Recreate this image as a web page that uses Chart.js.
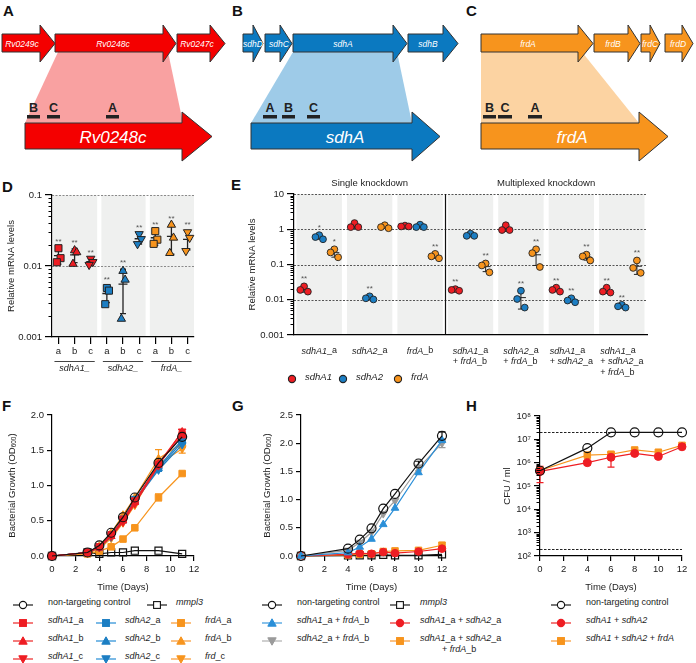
<!DOCTYPE html>
<html><head><meta charset="utf-8">
<script src="https://cdn.jsdelivr.net/npm/chart.js@4.4.1/dist/chart.umd.min.js"></script>
<style>
html,body{margin:0;padding:0;background:#fff;}
#wrap{position:relative;width:696px;height:663px;overflow:hidden;font-family:"Liberation Sans",Arial,sans-serif;color:#222;background:#fff;}
canvas{position:absolute;}
.pl{position:absolute;font-weight:bold;font-size:15px;color:#111;line-height:1;}
.lg{position:absolute;font-size:9px;white-space:nowrap;line-height:11px;color:#222;}
.sym{position:absolute;}
</style></head>
<body><div id="wrap">
<svg width="696" height="170" style="position:absolute;left:0;top:0" font-family="Liberation Sans, Arial, sans-serif">
 <!-- A -->
 <polygon points="58,52 168,52 183,123 25,123" fill="#f9a1a1"/>
 <polygon points="2,34 40,34 40,25 55,43.5 40,62 40,52 2,52" fill="#f40000" stroke="#333" stroke-width="1"/>
 <polygon points="55,34 163,34 163,25 176,43.5 163,62 163,52 55,52" fill="#f40000" stroke="#333" stroke-width="1"/>
 <polygon points="177,34 210,34 210,25 225,43.5 210,62 210,52 177,52" fill="#f40000" stroke="#333" stroke-width="1"/>
 <g fill="#fff" font-style="italic" font-size="8.5" text-anchor="middle">
  <text x="22" y="46.5">Rv0249c</text><text x="113" y="46.5">Rv0248c</text><text x="197" y="46.5">Rv0247c</text>
 </g>
 <polygon points="25,123 182,123 182,112 212,136.5 182,161 182,149 25,149" fill="#f40000" stroke="#333" stroke-width="1"/>
 <text x="113" y="143" fill="#fff" font-style="italic" font-size="17" text-anchor="middle">Rv0248c</text>
 <g fill="#222"><rect x="27" y="115" width="13" height="3.5"/><rect x="47" y="115" width="13" height="3.5"/><rect x="106" y="115" width="13" height="3.5"/></g>
 <g fill="#222" font-weight="bold" font-size="12.5" text-anchor="middle"><text x="33.5" y="112">B</text><text x="53.5" y="112">C</text><text x="112.5" y="112">A</text></g>
 <!-- B -->
 <polygon points="293,52 397,52 412,123 251,123" fill="#9ecbe8"/>
 <polygon points="243,34 253,34 253,25 263,43.5 253,62 253,52 243,52" fill="#0b79c0" stroke="#333" stroke-width="1"/>
 <polygon points="265,34 280,34 280,25 292,43.5 280,62 280,52 265,52" fill="#0b79c0" stroke="#333" stroke-width="1"/>
 <polygon points="293,34 393,34 393,25 407,43.5 393,62 393,52 293,52" fill="#0b79c0" stroke="#333" stroke-width="1"/>
 <polygon points="408,34 443,34 443,25 458,43.5 443,62 443,52 408,52" fill="#0b79c0" stroke="#333" stroke-width="1"/>
 <g fill="#fff" font-style="italic" font-size="8.5" text-anchor="middle">
  <text x="253" y="46.5">sdhD</text><text x="279" y="46.5">sdhC</text><text x="343" y="46.5">sdhA</text><text x="428" y="46.5">sdhB</text>
 </g>
 <polygon points="251,123 412,123 412,112 440,136.5 412,161 412,149 251,149" fill="#0b79c0" stroke="#333" stroke-width="1"/>
 <text x="345" y="143" fill="#fff" font-style="italic" font-size="17" text-anchor="middle">sdhA</text>
 <g fill="#222"><rect x="263" y="115" width="14" height="3.5"/><rect x="282" y="115" width="13" height="3.5"/><rect x="307" y="115" width="13" height="3.5"/></g>
 <g fill="#222" font-weight="bold" font-size="12.5" text-anchor="middle"><text x="270" y="112">A</text><text x="288.5" y="112">B</text><text x="313.5" y="112">C</text></g>
 <!-- C -->
 <polygon points="481,52 582,52 639,123 481,123" fill="#fcd3a2"/>
 <polygon points="481,34 578,34 578,25 593,43.5 578,62 578,52 481,52" fill="#f7941d" stroke="#333" stroke-width="1"/>
 <polygon points="594,34 628,34 628,25 640,43.5 628,62 628,52 594,52" fill="#f7941d" stroke="#333" stroke-width="1"/>
 <polygon points="641,34 650,34 650,25 660,43.5 650,62 650,52 641,52" fill="#f7941d" stroke="#333" stroke-width="1"/>
 <polygon points="665,34 682,34 682,25 693,43.5 682,62 682,52 665,52" fill="#f7941d" stroke="#333" stroke-width="1"/>
 <g fill="#fff" font-style="italic" font-size="8.5" text-anchor="middle">
  <text x="528" y="46.5">frdA</text><text x="613" y="46.5">frdB</text><text x="650" y="46.5">frdC</text><text x="678" y="46.5">frdD</text>
 </g>
 <polygon points="481,123 639,123 639,112 668,136.5 639,161 639,149 481,149" fill="#f7941d" stroke="#333" stroke-width="1"/>
 <text x="572" y="143" fill="#fff" font-style="italic" font-size="17" text-anchor="middle">frdA</text>
 <g fill="#222"><rect x="483" y="115" width="13" height="3.5"/><rect x="498" y="115" width="14" height="3.5"/><rect x="528" y="115" width="14" height="3.5"/></g>
 <g fill="#222" font-weight="bold" font-size="12.5" text-anchor="middle"><text x="489.5" y="112">B</text><text x="505" y="112">C</text><text x="535" y="112">A</text></g>
</svg>
<div class="pl" style="left:3px;top:3px">A</div>
<div class="pl" style="left:232px;top:3px">B</div>
<div class="pl" style="left:466px;top:3px">C</div>
<div class="pl" style="left:2px;top:179px">D</div>
<div class="pl" style="left:231px;top:177px">E</div>
<div class="pl" style="left:2px;top:398px">F</div>
<div class="pl" style="left:232px;top:398px">G</div>
<div class="pl" style="left:466px;top:398px">H</div>
</div>
<script>
// ================= DATA =================
// Panel D
const dCats   = ['a','b','c','a','b','c','a','b','c'];
const dGroups = ['sdhA1_','sdhA2_','frdA_'];
const dTicks  = [0.001, 0.01, 0.1];
const dSdhA1a = [0.0178, 0.0129, 0.0113];
const dSdhA1b = [0.0166, 0.0156, 0.0107];
const dSdhA1c = [0.0127, 0.0114, 0.0104];
const dSdhA2a = [0.0049, 0.0045, 0.0029];
const dSdhA2b = [0.0085, 0.0064, 0.0018];
const dSdhA2c = [0.0282, 0.0240, 0.0204];
const dFrdAa  = [0.0310, 0.0235, 0.0205];
const dFrdAb  = [0.0380, 0.0250, 0.0152];
const dFrdAc  = [0.0300, 0.0250, 0.0163];
const dStars  = ['**','**','**','**','**','**','**','**','**'];

// Panel E
const eGroups   = [['sdhA1_a'],['sdhA2_a'],['frdA_b'],['sdhA1_a','+ frdA_b'],['sdhA2_a','+ frdA_b'],['sdhA1_a','+ sdhA2_a'],['sdhA1_a','+ sdhA2_a','+ frdA_b']];
const eSections = ['Single knockdown','Multiplexed knockdown'];
const eTicks    = [0.001, 0.01, 0.1, 1, 10];
const eSdhA1 = [[0.024,0.019,0.017],[1.5,1.15,1.15],[1.27,1.2,1.2],[0.020,0.019,0.018],[1.3,0.95,0.95],[0.022,0.019,0.017],[0.022,0.017,0.016]];
const eSdhA2 = [[0.68,0.60,0.52],[0.0125,0.011,0.0102],[1.35,1.15,1.15],[0.75,0.65,0.65],[0.018,0.0105,0.006],[0.011,0.0095,0.0085],[0.0072,0.0065,0.006]];
const eFrdA  = [[0.27,0.22,0.16],[1.3,1.15,1.07],[0.20,0.17,0.15],[0.107,0.094,0.06],[0.27,0.21,0.085],[0.19,0.17,0.13],[0.13,0.08,0.058]];
const eStarsSdhA1 = ['**','','','**','','**','**'];
const eStarsSdhA2 = ['*','**','','','**','**','**'];
const eStarsFrdA  = ['*','','**','**','**','**','**'];

// Panel F
const fDays    = [0, 3, 4, 5, 6, 7, 9, 11];
const fTicksX  = [0, 2, 4, 6, 8, 10, 12];
const fTicksY  = [0, 0.5, 1.0, 1.5, 2.0];
const fNT      = [0, 0.05, 0.15, 0.33, 0.55, 0.83, 1.32, 1.69];
const fMmpl3   = [0, 0.05, 0.03, 0.05, 0.05, 0.075, 0.075, 0.03];
const fSdhA1a  = [0, 0.05, 0.13, 0.30, 0.52, 0.78, 1.30, 1.72];
const fSdhA1b  = [0, 0.05, 0.12, 0.28, 0.50, 0.76, 1.31, 1.76];
const fSdhA1c  = [0, 0.05, 0.12, 0.28, 0.48, 0.74, 1.28, 1.77];
const fSdhA2a  = [0, 0.05, 0.13, 0.30, 0.52, 0.80, 1.26, 1.65];
const fSdhA2b  = [0, 0.05, 0.12, 0.28, 0.50, 0.78, 1.24, 1.62];
const fSdhA2c  = [0, 0.05, 0.12, 0.27, 0.50, 0.77, 1.22, 1.58];
const fFrdAa   = [0, 0.03, 0.07, 0.13, 0.24, 0.40, 0.83, 1.17];
const fFrdAb   = [0, 0.05, 0.14, 0.33, 0.58, 0.83, 1.38, 1.60];
const fFrdAc   = [0, 0.04, 0.10, 0.25, 0.47, 0.72, 1.30, 1.52];
const fErrSdhA2a = [0, 0, 0, 0, 0, 0, 0.06, 0.06];
const fErrFrdAa  = [0, 0, 0, 0, 0, 0, 0.05, 0];
const fErrFrdAb  = [0, 0, 0, 0, 0, 0, 0.13, 0.05];
const fErrFrdAc  = [0, 0, 0, 0, 0, 0, 0, 0.06];

// Panel G
const gDays   = [0, 4, 5, 6, 7, 8, 10, 12];
const gTicksY = [0, 0.5, 1.0, 1.5, 2.0, 2.5];
const gNT     = [0, 0.13, 0.29, 0.49, 0.84, 1.10, 1.64, 2.13];
const gMmpl3  = [0, 0.01, 0.01, 0.01, 0.02, 0.01, 0.01, 0.03];
const gA1F    = [0, 0.06, 0.16, 0.30, 0.56, 0.85, 1.48, 2.05];
const gA2F    = [0, 0.10, 0.24, 0.42, 0.75, 0.98, 1.56, 2.00];
const gA1A2   = [0, 0.03, 0.05, 0.04, 0.07, 0.05, 0.08, 0.13];
const gA1A2F  = [0, 0.02, 0.03, 0.04, 0.08, 0.09, 0.10, 0.19];
const gErrNT  = [0, 0, 0, 0, 0, 0, 0.04, 0.07];
const gErrA2F = [0, 0, 0, 0, 0, 0, 0.05, 0.08];
const gErrA1A2F = [0, 0, 0, 0, 0, 0, 0, 0.05];

// Panel H
const hDays   = [0, 4, 6, 8, 10, 12];
const hTicksY = [1e2, 1e3, 1e4, 1e5, 1e6, 1e7, 1e8];
const hNT     = [4.5e5, 4.2e6, 2e7, 2e7, 2e7, 2e7];
const hA1A2   = [4.2e5, 1.0e6, 1.7e6, 2.5e6, 1.85e6, 4.8e6];
const hA1A2F  = [4.6e5, 2.1e6, 2.3e6, 3.5e6, 2.8e6, 5.5e6];
const hErrA1A2 = [2.8e5, 2e5, 1.05e6, 4e5, 3e5, 6e5];
const hDashed = [2e7, 2e2];

// ================= STYLE / HELPERS =================
const RED='#ee1d23', BLUE='#1c7ec3', ORANGE='#f7941d', GREY='#9b9b9b', BAND='#eff0ef';
const FONT='"Liberation Sans", Arial, Helvetica, sans-serif';
Chart.defaults.font.family = FONT;
Chart.defaults.font.size = 9.5;
Chart.defaults.color = '#222';
const wrap = document.getElementById('wrap');

function setup(box, area){
  const c = document.createElement('canvas');
  c.width = box.w; c.height = box.h;
  c.style.left = box.x+'px'; c.style.top = box.y+'px';
  c.style.width = box.w+'px'; c.style.height = box.h+'px';
  wrap.appendChild(c);
  return {canvas:c, pad:{left:0, top:area.t-box.y, right:box.x+box.w-area.r, bottom:0}, yW:area.l-box.x, xH:box.y+box.h-area.b};
}
function segs(str){
  const out=[]; const re=/(sdhA1|sdhA2|frdA|frd|mmpl3)/g; let last=0, m;
  while((m=re.exec(str))){ if(m.index>last) out.push({t:str.slice(last,m.index),i:false}); out.push({t:m[0],i:true}); last=re.lastIndex; }
  if(last<str.length) out.push({t:str.slice(last),i:false});
  return out;
}
function fontOf(p,size){ return (p.i?'italic ':'')+(p.sz||size)+'px '+FONT; }
function richWidth(ctx, parts, size){ let w=0; parts.forEach(p=>{ctx.font=fontOf(p,size); w+=ctx.measureText(p.t).width;}); return w; }
function drawRich(ctx, parts, x, y, size, align, color){
  const total = richWidth(ctx, parts, size);
  let cx = align==='center' ? x-total/2 : (align==='right' ? x-total : x);
  ctx.textAlign='left'; ctx.textBaseline='middle'; ctx.fillStyle=color||'#222';
  parts.forEach(p=>{ ctx.font=fontOf(p,size); ctx.fillText(p.t, cx, y+(p.dy||0)); cx+=ctx.measureText(p.t).width; });
}
function yTitle(chart, parts, off, size){
  const {ctx, chartArea:a} = chart;
  ctx.save(); ctx.translate(a.left-off, (a.top+a.bottom)/2); ctx.rotate(-Math.PI/2);
  drawRich(ctx, parts, 0, 0, size, 'center'); ctx.restore();
}
function hLine(ctx, a, y, color, dash, w){
  ctx.save(); ctx.strokeStyle=color; ctx.setLineDash(dash); ctx.lineWidth=w;
  ctx.beginPath(); ctx.moveTo(a.left, Math.round(y)+0.5); ctx.lineTo(a.right, Math.round(y)+0.5); ctx.stroke(); ctx.restore();
}
function minorLog(chart, len){
  const s=chart.scales.y, ctx=chart.ctx;
  ctx.save(); ctx.strokeStyle='#000'; ctx.lineWidth=1;
  for(let e=Math.floor(Math.log10(s.min)); e<Math.ceil(Math.log10(s.max)); e++){
    for(let k=2;k<10;k++){
      const v=k*Math.pow(10,e); if(v<=s.min||v>=s.max) continue;
      const y=Math.round(s.getPixelForValue(v))+0.5;
      ctx.beginPath(); ctx.moveTo(s.right-len, y); ctx.lineTo(s.right, y); ctx.stroke();
    }
  }
  ctx.restore();
}
function meanSd(a){ const m=a.reduce((s,v)=>s+v,0)/a.length; const sd=Math.sqrt(a.reduce((s,v)=>s+(v-m)*(v-m),0)/(a.length-1)); return [m,sd]; }
function errBar(ctx, x, yHi, yLo, yMean, capW, meanW, lw){
  ctx.save(); ctx.strokeStyle='#222'; ctx.lineWidth=lw;
  ctx.beginPath();
  ctx.moveTo(x, yHi); ctx.lineTo(x, yLo);
  ctx.moveTo(x-capW, yHi); ctx.lineTo(x+capW, yHi);
  ctx.moveTo(x-capW, yLo); ctx.lineTo(x+capW, yLo);
  ctx.moveTo(x-meanW, yMean); ctx.lineTo(x+meanW, yMean);
  ctx.stroke(); ctx.restore();
}
function linAxisX(f, ticks, extra){
  return Object.assign({type:'linear', position:'bottom', min:ticks[0], max:ticks[ticks.length-1],
    afterBuildTicks:s=>{ s.ticks=ticks.map(v=>({value:v})); },
    border:{display:true,color:'#000',width:1.2},
    grid:{drawOnChartArea:false, drawTicks:true, tickLength:5, color:'#000', tickColor:'#000', lineWidth:1.2},
    ticks:{autoSkip:false, maxRotation:0, padding:3, color:'#222', font:{size:9.5}},
    afterFit:s=>{ s.height=f.xH; }}, extra||{});
}
function axisY(f, type, ticks, cb, tickLen){
  return {type:type, position:'left', min:ticks[0], max:ticks[ticks.length-1],
    afterBuildTicks:s=>{ s.ticks=ticks.map(v=>({value:v})); },
    border:{display:true,color:'#000',width:1.2},
    grid:{drawOnChartArea:false, drawTicks:true, tickLength:tickLen, color:'#000', tickColor:'#000', lineWidth:1.2},
    ticks:{autoSkip:false, padding:3, color:'#222', font:{size:9.5}, callback:cb},
    afterFit:s=>{ s.width=f.yW; }};
}
const baseOpts = f => ({responsive:false, animation:false, devicePixelRatio:1, layout:{padding:f.pad},
  plugins:{legend:{display:false}, tooltip:{enabled:false}}});

// ================= PANEL D =================
(function(){
  const f = setup({x:0,y:182,w:205,h:193},{l:52,t:195,r:194,b:337});
  const series = [dSdhA1a,dSdhA1b,dSdhA1c,dSdhA2a,dSdhA2b,dSdhA2c,dFrdAa,dFrdAb,dFrdAc];
  const colors = [RED,RED,RED,BLUE,BLUE,BLUE,ORANGE,ORANGE,ORANGE];
  const jit = [0, 0.13, -0.1];
  const datasets = series.map((vals,i)=>({
    data: vals.map((v,j)=>({x:i+jit[j], y:v})),
    pointStyle: i%3===0 ? 'rect' : 'triangle', pointRotation: i%3===2 ? 180 : 0,
    pointRadius: i%3===0 ? 5 : 4.8, backgroundColor: colors[i], borderColor:'#222', borderWidth:1, clip:false
  }));
  const deco = {id:'dDeco',
    beforeDraw(chart){
      const {ctx, chartArea:a, scales:{x,y}} = chart;
      ctx.save(); ctx.fillStyle=BAND;
      dGroups.forEach((g,k)=>{ const x0=x.getPixelForValue(3*k-0.4), x1=x.getPixelForValue(3*k+2.4); ctx.fillRect(x0+1, a.top, x1-x0-1, a.bottom-a.top); });
      ctx.restore();
      [0.01, 0.1].forEach(v=>hLine(ctx, a, y.getPixelForValue(v), '#8a8a8a', [2,1.5], 1));
    },
    beforeDatasetsDraw(chart){
      const {ctx, scales:{x,y}} = chart;
      series.forEach((vals,i)=>{
        const [m,sd]=meanSd(vals); const px=x.getPixelForValue(i);
        errBar(ctx, px, y.getPixelForValue(m+sd), y.getPixelForValue(Math.max(m-sd, 0.00101)), y.getPixelForValue(m), 3, 4.5, 1.3);
      });
    },
    afterDraw(chart){
      const {ctx, chartArea:a, scales:{x,y}} = chart;
      minorLog(chart, 3.5);
      series.forEach((vals,i)=>{
        const [m,sd]=meanSd(vals);
        const top=Math.min(y.getPixelForValue(Math.max(...vals)), y.getPixelForValue(m+sd));
        ctx.font='8px '+FONT; ctx.fillStyle='#555'; ctx.textAlign='center'; ctx.textBaseline='alphabetic';
        ctx.fillText(dStars[i], x.getPixelForValue(i), top-4);
      });
      dGroups.forEach((g,k)=>{
        const x0=x.getPixelForValue(3*k)-4, x1=x.getPixelForValue(3*k+2)+4, yl=a.bottom+24;
        ctx.save(); ctx.strokeStyle='#444'; ctx.lineWidth=1; ctx.beginPath(); ctx.moveTo(x0,yl+0.5); ctx.lineTo(x1,yl+0.5); ctx.stroke(); ctx.restore();
        drawRich(ctx, segs(g).map(p=>({t:p.t,i:true})), (x0+x1)/2, yl+7, 9, 'center');
      });
      yTitle(chart, [{t:'Relative mRNA levels'}], 41, 9.5);
    }};
  new Chart(f.canvas, {type:'scatter', data:{datasets},
    options: Object.assign(baseOpts(f), {scales:{
      x: linAxisX(f, [0,1,2,3,4,5,6,7,8], {min:-0.4, max:8.4,
          ticks:{autoSkip:false, maxRotation:0, padding:2, color:'#222', font:{size:9.5}, callback:(v,i)=>dCats[i]},
          grid:{drawOnChartArea:false, drawTicks:true, tickLength:7, color:'#000', tickColor:'#000', lineWidth:1.2}}),
      y: axisY(f, 'logarithmic', dTicks, v=>String(v), 7)
    }}), plugins:[deco]});
})();

// ================= PANEL E =================
(function(){
  const f = setup({x:214,y:170,w:482,h:215},{l:294,t:194,r:647,b:335});
  const genes = [eSdhA1, eSdhA2, eFrdA];
  const stars = [eStarsSdhA1, eStarsSdhA2, eStarsFrdA];
  const colors = [RED, BLUE, ORANGE];
  const off = [-0.3, 0, 0.3];
  const jit = [0, -0.075, 0.075];
  const datasets = genes.map((gv,gi)=>({
    data: gv.flatMap((vals,g)=>vals.map((v,j)=>({x:g+0.5+off[gi]+jit[j], y:v}))),
    pointStyle:'circle', pointRadius:3.4, backgroundColor:colors[gi], borderColor:'#222', borderWidth:0.9, clip:false
  }));
  const deco = {id:'eDeco',
    beforeDraw(chart){
      const {ctx, chartArea:a, scales:{x,y}} = chart;
      ctx.save(); ctx.fillStyle=BAND;
      eGroups.forEach((g,k)=>{ const x0=x.getPixelForValue(k+0.05), x1=x.getPixelForValue(k+0.95); ctx.fillRect(x0, a.top, x1-x0, a.bottom-a.top); });
      ctx.restore();
      [0.01, 0.1, 1, 10].forEach(v=>hLine(ctx, a, y.getPixelForValue(v), '#555', [2,1.5], 1));
      const xd=Math.round(x.getPixelForValue(3))+0.5;
      ctx.save(); ctx.strokeStyle='#111'; ctx.lineWidth=1.2; ctx.beginPath(); ctx.moveTo(xd,a.top); ctx.lineTo(xd,a.bottom); ctx.stroke(); ctx.restore();
      ctx.font='9.5px '+FONT; ctx.fillStyle='#222'; ctx.textAlign='center'; ctx.textBaseline='middle';
      ctx.fillText(eSections[0], x.getPixelForValue(1.5), a.top-11);
      ctx.fillText(eSections[1], x.getPixelForValue(5), a.top-11);
    },
    beforeDatasetsDraw(chart){
      const {ctx, scales:{x,y}} = chart;
      genes.forEach((gv,gi)=>gv.forEach((vals,g)=>{
        const [m,sd]=meanSd(vals); const px=x.getPixelForValue(g+0.5+off[gi]);
        errBar(ctx, px, y.getPixelForValue(m+sd), y.getPixelForValue(Math.max(m-sd,0.0011)), y.getPixelForValue(m), 3, 5, 1);
      }));
    },
    afterDraw(chart){
      const {ctx, chartArea:a, scales:{x,y}} = chart;
      minorLog(chart, 3.5);
      genes.forEach((gv,gi)=>gv.forEach((vals,g)=>{
        if(!stars[gi][g]) return;
        const [m,sd]=meanSd(vals);
        const top=Math.min(y.getPixelForValue(Math.max(...vals)), y.getPixelForValue(m+sd));
        ctx.font='8px '+FONT; ctx.fillStyle='#555'; ctx.textAlign='center'; ctx.textBaseline='alphabetic';
        ctx.fillText(stars[gi][g], x.getPixelForValue(g+0.5+off[gi]), top-5);
      }));
      eGroups.forEach((lines,k)=>{
        const cx=x.getPixelForValue(k+0.5);
        const ws=lines.map(l=>richWidth(ctx, segs(l), 9));
        const left=cx-Math.max(...ws)/2;
        lines.forEach((l,li)=>drawRich(ctx, segs(l), lines.length===1?cx-ws[li]/2:left, a.bottom+16+li*10.7, 9, 'left'));
      });
      yTitle(chart, [{t:'Relative mRNA levels'}], 42, 9.5);
    }};
  new Chart(f.canvas, {type:'scatter', data:{datasets},
    options: Object.assign(baseOpts(f), {scales:{
      x: {type:'linear', min:0, max:7, border:{display:true,color:'#000',width:1.2}, grid:{display:false}, ticks:{display:false}, afterFit:s=>{s.height=f.xH;}},
      y: axisY(f, 'logarithmic', eTicks, v=>String(v), 7)
    }}), plugins:[deco]});
})();

// ================= LINE PANELS =================
const lineErr = {id:'lineErr', beforeDatasetsDraw(chart){
  const ctx=chart.ctx, sx=chart.scales.x, sy=chart.scales.y;
  chart.data.datasets.forEach(ds=>{
    if(!ds.err) return;
    ctx.save(); ctx.strokeStyle=ds.pointBackgroundColor==='rgba(0,0,0,0)'?'#111':ds.borderColor; ctx.lineWidth=1.2;
    ds.data.forEach((p,j)=>{
      const e=ds.err[j]; if(!e) return;
      const x=sx.getPixelForValue(p.x);
      const y1=sy.getPixelForValue(p.y+e), y2=sy.getPixelForValue(Math.max(p.y-e, sy.min*1.01));
      ctx.beginPath(); ctx.moveTo(x,y1); ctx.lineTo(x,y2);
      ctx.moveTo(x-3.5,y1); ctx.lineTo(x+3.5,y1); ctx.moveTo(x-3.5,y2); ctx.lineTo(x+3.5,y2); ctx.stroke();
    });
    ctx.restore();
  });
}};
function lineDs(days, vals, color, shape, opts){
  return Object.assign({data: days.map((d,i)=>({x:d, y:vals[i]})), borderColor:color, backgroundColor:color,
    pointBackgroundColor:color, pointBorderColor:color, pointStyle:shape, pointRadius:3.8, pointBorderWidth:1,
    borderWidth:1.2, tension:0, clip:false}, opts||{});
}
const OPEN='rgba(0,0,0,0)';
function timeTitle(chart){
  const {ctx, chartArea:a} = chart;
  ctx.font='9.5px '+FONT; ctx.fillStyle='#222'; ctx.textAlign='center'; ctx.textBaseline='middle';
  ctx.fillText('Time (Days)', (a.left+a.right)/2, a.bottom+31);
}
const odTitle = [{t:'Bacterial Growth (OD'},{t:'600',sz:6.5,dy:2.5},{t:')'}];

// PANEL F
(function(){
  const f = setup({x:0,y:400,w:230,h:195},{l:52,t:415,r:194,b:556});
  const datasets = [
    lineDs(fDays, fNT, '#111', 'circle', {pointBackgroundColor:OPEN, pointRadius:4.5, pointBorderWidth:1.2}),
    lineDs(fDays, fSdhA1a, RED, 'rect', {pointRadius:4.6}),
    lineDs(fDays, fSdhA1b, RED, 'triangle', {pointRadius:4.4}),
    lineDs(fDays, fSdhA1c, RED, 'triangle', {pointRadius:4.4, pointRotation:180}),
    lineDs(fDays, fSdhA2a, BLUE, 'rect', {pointRadius:4.6, err:fErrSdhA2a}),
    lineDs(fDays, fSdhA2b, BLUE, 'triangle', {pointRadius:4.4}),
    lineDs(fDays, fSdhA2c, BLUE, 'triangle', {pointRadius:4.4, pointRotation:180}),
    lineDs(fDays, fFrdAb, ORANGE, 'triangle', {pointRadius:4.4, err:fErrFrdAb}),
    lineDs(fDays, fFrdAc, ORANGE, 'triangle', {pointRadius:4.4, pointRotation:180, err:fErrFrdAc}),
    lineDs(fDays, fFrdAa, ORANGE, 'rect', {pointRadius:4.6, err:fErrFrdAa}),
    lineDs(fDays, fMmpl3, '#111', 'rect', {pointBackgroundColor:OPEN, pointRadius:5, pointBorderWidth:1.2})
  ];
  const deco = {id:'fDeco', afterDraw(chart){ timeTitle(chart); yTitle(chart, odTitle, 40, 9.5); }};
  new Chart(f.canvas, {type:'line', data:{datasets},
    options: Object.assign(baseOpts(f), {scales:{
      x: linAxisX(f, fTicksX),
      y: axisY(f, 'linear', fTicksY, v=>v.toFixed(1), 5)
    }}), plugins:[lineErr, deco]});
})();

// PANEL G
(function(){
  const f = setup({x:240,y:400,w:222,h:195},{l:301,t:415,r:442,b:556});
  const datasets = [
    lineDs(gDays, gNT, '#111', 'circle', {pointBackgroundColor:OPEN, pointRadius:4.5, pointBorderWidth:1.2, err:gErrNT}),
    lineDs(gDays, gA1F, '#2a8fd8', 'triangle', {pointRadius:4.4}),
    lineDs(gDays, gA2F, GREY, 'triangle', {pointRadius:4.4, pointRotation:180, err:gErrA2F}),
    lineDs(gDays, gA1A2, RED, 'circle', {pointRadius:3.8}),
    lineDs(gDays, gA1A2F, ORANGE, 'rect', {pointRadius:4.6, err:gErrA1A2F}),
    lineDs(gDays, gMmpl3, '#111', 'rect', {pointBackgroundColor:OPEN, pointRadius:5, pointBorderWidth:1.2})
  ];
  const deco = {id:'gDeco', afterDraw(chart){ timeTitle(chart); yTitle(chart, odTitle, 34, 9.5); }};
  new Chart(f.canvas, {type:'line', data:{datasets},
    options: Object.assign(baseOpts(f), {scales:{
      x: linAxisX(f, fTicksX),
      y: axisY(f, 'linear', gTicksY, v=>v.toFixed(1), 5)
    }}), plugins:[lineErr, deco]});
})();

// PANEL H
(function(){
  const f = setup({x:470,y:400,w:226,h:195},{l:540,t:416,r:682,b:556});
  const sup = {'0':'⁰','1':'¹','2':'²','3':'³','4':'⁴','5':'⁵','6':'⁶','7':'⁷','8':'⁸','9':'⁹'};
  const datasets = [
    lineDs(hDays, hNT, '#111', 'circle', {pointBackgroundColor:OPEN, pointRadius:4.5, pointBorderWidth:1.2}),
    lineDs(hDays, hA1A2, RED, 'circle', {pointRadius:4, err:hErrA1A2}),
    lineDs(hDays, hA1A2F, ORANGE, 'rect', {pointRadius:4.6})
  ];
  const deco = {id:'hDeco',
    beforeDraw(chart){ const {ctx, chartArea:a, scales:{y}} = chart; hDashed.forEach(v=>hLine(ctx, a, y.getPixelForValue(v), '#222', [2.5,1.5], 1)); },
    afterDraw(chart){ minorLog(chart, 3.5); timeTitle(chart); yTitle(chart, [{t:'CFU / ml'}], 33, 9.5); }};
  new Chart(f.canvas, {type:'line', data:{datasets},
    options: Object.assign(baseOpts(f), {scales:{
      x: linAxisX(f, fTicksX),
      y: axisY(f, 'logarithmic', hTicksY, v=>'10'+String(Math.round(Math.log10(v))).split('').map(c=>sup[c]).join(''), 6)
    }}), plugins:[lineErr, deco]});
})();

// ================= LEGENDS (HTML) =================
function symbol(x, y, s){
  const w=24, h=12, cx=12, cy=6;
  let m='';
  const fill=s.fill, st=s.stroke;
  if(s.shape==='circle') m=`<circle cx="${cx}" cy="${cy}" r="3.6" fill="${fill}" stroke="${st}" stroke-width="1.1"/>`;
  else if(s.shape==='rect') m=`<rect x="${cx-3.4}" y="${cy-3.4}" width="6.8" height="6.8" fill="${fill}" stroke="${st}" stroke-width="1.1"/>`;
  else if(s.shape==='up') m=`<polygon points="${cx},${cy-4.2} ${cx+4.2},${cy+3.2} ${cx-4.2},${cy+3.2}" fill="${fill}" stroke="${st}" stroke-width="1"/>`;
  else if(s.shape==='down') m=`<polygon points="${cx},${cy+4.2} ${cx+4.2},${cy-3.2} ${cx-4.2},${cy-3.2}" fill="${fill}" stroke="${st}" stroke-width="1"/>`;
  const line = s.line ? `<line x1="2" y1="${cy}" x2="22" y2="${cy}" stroke="${s.line}" stroke-width="1.6"/>` : '';
  const el=document.createElement('div'); el.className='sym';
  el.style.left=(x-cx)+'px'; el.style.top=(y-cy)+'px';
  el.innerHTML=`<svg width="${w}" height="${h}">${line}${m}</svg>`;
  wrap.appendChild(el);
}
function ltext(x, y, html, extra){
  const el=document.createElement('div'); el.className='lg';
  el.style.left=x+'px'; el.style.top=(y-6)+'px'; el.innerHTML=html;
  if(extra) Object.assign(el.style, extra);
  wrap.appendChild(el);
}
function it(str){ return segs(str).map(p=>p.i?'<i>'+p.t+'</i>':p.t).join(''); }
const S = {
  nt:{shape:'circle', fill:'#fff', stroke:'#111', line:'#555'},
  mm:{shape:'rect', fill:'#fff', stroke:'#111', line:'#555'},
  r1:{shape:'rect', fill:RED, stroke:RED, line:'#f25c5c'},
  r2:{shape:'up', fill:RED, stroke:RED, line:'#f25c5c'},
  r3:{shape:'down', fill:RED, stroke:RED, line:'#f25c5c'},
  b1:{shape:'rect', fill:BLUE, stroke:BLUE, line:'#5aa9e0'},
  b2:{shape:'up', fill:BLUE, stroke:BLUE, line:'#5aa9e0'},
  b3:{shape:'down', fill:BLUE, stroke:BLUE, line:'#5aa9e0'},
  o1:{shape:'rect', fill:ORANGE, stroke:ORANGE, line:'#fbb264'},
  o2:{shape:'up', fill:ORANGE, stroke:ORANGE, line:'#fbb264'},
  o3:{shape:'down', fill:ORANGE, stroke:ORANGE, line:'#fbb264'},
  gb:{shape:'up', fill:'#2a8fd8', stroke:'#2a8fd8', line:'#6cb3e6'},
  gg:{shape:'down', fill:GREY, stroke:GREY, line:'#c4c4c4'},
  gr:{shape:'circle', fill:RED, stroke:RED, line:'#f25c5c'},
  go:{shape:'rect', fill:ORANGE, stroke:ORANGE, line:'#fbb264'}
};
const rows=[603, 621, 639, 657];
// F legend
symbol(23, rows[0], S.nt); ltext(48, rows[0], 'non-targeting control');
symbol(157, rows[0], S.mm); ltext(176, rows[0], it('mmpl3'));
[['sdhA1_a',S.r1],['sdhA1_b',S.r2],['sdhA1_c',S.r3]].forEach((d,i)=>{ symbol(23, rows[i+1], d[1]); ltext(48, rows[i+1], it(d[0])); });
[['sdhA2_a',S.b1],['sdhA2_b',S.b2],['sdhA2_c',S.b3]].forEach((d,i)=>{ symbol(106, rows[i+1], d[1]); ltext(125, rows[i+1], it(d[0])); });
[['frdA_a',S.o1],['frdA_b',S.o2],['frd_c',S.o3]].forEach((d,i)=>{ symbol(181, rows[i+1], d[1]); ltext(205, rows[i+1], it(d[0])); });
// G legend
symbol(272, rows[0], S.nt); ltext(297, rows[0], 'non-targeting control');
symbol(400, rows[0], S.mm); ltext(420, rows[0], it('mmpl3'));
symbol(272, rows[1], S.gb); ltext(297, rows[1], it('sdhA1_a + frdA_b'));
symbol(272, rows[2], S.gg); ltext(297, rows[2], it('sdhA2_a + frdA_b'));
symbol(400, rows[1], S.gr); ltext(420, rows[1], it('sdhA1_a + sdhA2_a'));
symbol(400, rows[2], S.go); ltext(420, rows[2], it('sdhA1_a + sdhA2_a')+'<br><span style="padding-left:22px">'+it('+ frdA_b')+'</span>');
// H legend
symbol(561, rows[0], S.nt); ltext(586, rows[0], 'non-targeting control');
symbol(561, rows[1], S.gr); ltext(586, rows[1], it('sdhA1 + sdhA2'));
symbol(561, rows[2], S.go); ltext(586, rows[2], it('sdhA1 + sdhA2 + frdA'));
// E legend
[['sdhA1',RED,292,305],['sdhA2',BLUE,343,356],['frdA',ORANGE,398,411]].forEach(d=>{
  symbol(d[2], 377, {shape:'circle', fill:d[1], stroke:'#222'}); ltext(d[3], 377, '<i>'+d[0]+'</i>', {fontSize:'9.5px'});
});
</script>
</body></html>
